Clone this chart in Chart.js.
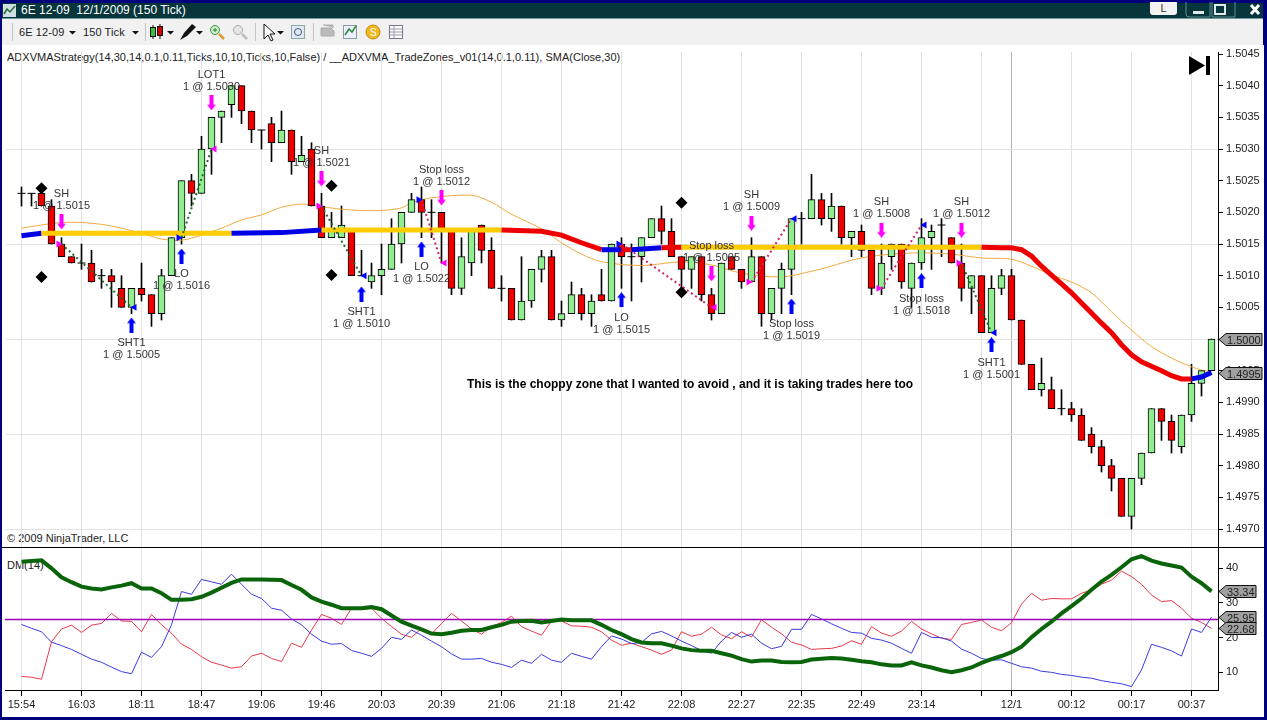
<!DOCTYPE html>
<html>
<head>
<meta charset="utf-8">
<title>6E 12-09</title>
<script src="https://cdn.jsdelivr.net/npm/chart.js@4"></script>
<style>
  html, body { margin: 0; padding: 0; background: #00007f; overflow: hidden; }
  body { position: relative; width: 1267px; height: 720px; font-family: "Liberation Sans", Arial, sans-serif; }
  .abs { position: absolute; white-space: pre; }
  #titlebar { left: 2px; top: 3px; width: 1261px; height: 15px; background: #06363c; border-bottom: 1px solid #6f9a9f; }
  #toolbar { left: 2px; top: 19px; width: 1261px; height: 26px; background: #f1f1f1; }
  #page { left: 2px; top: 45px; width: 1262px; height: 672px; background: #fff; }
  canvas { position: absolute; left: 0; z-index: 2; }
  #priceCanvas { top: 45px; }
  #dmCanvas { top: 548px; }
  #paneLine { left: 2px; top: 547px; width: 1262px; height: 1px; background: #000; z-index: 3; }
  .tb { font-size: 11px; color: #222; top: 26px; z-index: 3; letter-spacing: .1px; }
  .note { font-size: 11px; color: #222; z-index: 1; }
  .sep { top: 23px; width: 1px; height: 18px; background: #c4c4c4; z-index: 3; }
  svg.abs { z-index: 3; }
</style>
</head>
<body>
<div class="abs" id="page"></div>
<div class="abs" id="titlebar"></div>
<div class="abs" id="toolbar"></div>
<div class="abs" id="paneLine"></div>

<svg class="abs" style="left:3px;top:4px" width="13" height="13"><rect width="13" height="13" fill="#cfe0e4"/><path d="M1 10 L4 5 L7 8 L12 2" stroke="#2a6a3a" stroke-width="1.5" fill="none"/></svg>
<div class="abs" style="left:21px;top:3px;font-size:12px;line-height:15px;color:#fff;z-index:3">6E 12-09  12/1/2009 (150 Tick)</div>
<div class="abs" style="left:1150px;top:2px;width:27px;height:13px;background:#f2f2f2;border-radius:0 0 3px 3px;font-size:11px;line-height:12px;text-align:center;color:#333;z-index:3">L</div>
<svg class="abs" style="left:1185px;top:2px" width="78" height="16">
  <path d="M1 0V12Q1 15 4 15H25V0M27 0V15H50V0" stroke="#5f8a8f" fill="none"/>
  <rect x="8" y="9" width="11" height="3" fill="#dfe9ea"/>
  <rect x="30" y="3" width="10" height="9" fill="none" stroke="#dfe9ea" stroke-width="2"/>
  <path d="M66 3L74 12M74 3L66 12" stroke="#fff" stroke-width="3"/>
</svg>

<div class="abs sep" style="left:12px"></div>
<div class="abs tb" style="left:19px">6E 12-09</div>
<div class="abs tb" style="left:83px">150 Tick</div>
<div class="abs sep" style="left:145px"></div>
<div class="abs sep" style="left:255px"></div>
<div class="abs sep" style="left:313px"></div>
<svg class="abs" style="left:0;top:19px" width="410" height="26">
  <path d="M69 12h7l-3.500 3.500zM132 12h7l-3.500 3.500zM167 12h7l-3.500 3.500zM196 12h7l-3.500 3.500zM277 12h7l-3.500 3.500z" fill="#111"/>
  <g stroke="#111"><path d="M153 6V20M160 5V20"/><rect x="150.500" y="8.500" width="5" height="9" fill="#3fbf3f"/><rect x="157.500" y="7.500" width="5" height="9" fill="#c00"/></g>
  <path d="M180 21L184 14L192 5L196 8L187 17Z" fill="#111"/>
  <g fill="#cfe9cf" stroke="#3a9a3a"><circle cx="215" cy="11" r="4.500"/></g>
  <path d="M213 11h4M215 9v4" stroke="#2a8a2a"/><path d="M219 15L224 20" stroke="#e09a30" stroke-width="2.500"/>
  <circle cx="238" cy="11" r="4.500" fill="#e6e6e6" stroke="#aaa"/><path d="M242 15L247 20" stroke="#bbb" stroke-width="2.500"/>
  <path d="M264 5V20L268 16L271 22L273 21L270 15H275Z" fill="#fff" stroke="#111"/>
  <rect x="291.500" y="6.500" width="13" height="13" fill="#dfe8f5" stroke="#8aa"/><circle cx="298" cy="13" r="3.500" fill="none" stroke="#557"/>
  <path d="M321 9h10l3 3v5h-13zM323 6h10v3" fill="#bbb" stroke="#aaa"/>
  <rect x="343.500" y="6.500" width="13" height="13" fill="#eef" stroke="#89a"/><path d="M345 16L349 10L352 13L356 7" stroke="#2a8a3a" fill="none" stroke-width="1.500"/>
  <circle cx="373" cy="13" r="7" fill="#f1b91f" stroke="#c48a10"/><text x="370" y="17" font-size="10" fill="#fff" font-family="Liberation Sans">S</text>
  <rect x="389.500" y="6.500" width="13" height="13" fill="#fff" stroke="#778"/><path d="M390 10H402M390 13H402M390 16H402M394 7V19" stroke="#99a"/>
</svg>

<div class="abs note" style="left:7px;top:51px;letter-spacing:.02px">ADXVMAStrategy(14,30,14,0.1,0.11,Ticks,10,10,Ticks,10,False) / __ADXVMA_TradeZones_v01(14,0.1,0.11), SMA(Close,30)</div>
<div class="abs note" style="left:7px;top:532px">© 2009 NinjaTrader, LLC</div>
<div class="abs note" style="left:7px;top:559px">DM(14)</div>
<div class="abs" style="left:467px;top:377px;font-size:12px;font-weight:bold;color:#000;z-index:3">This is the choppy zone that I wanted to avoid , and it is taking trades here too</div>
<svg class="abs" style="left:1189px;top:56px" width="22" height="20"><path d="M0 0L16 9.500L0 19Z" fill="#000"/><rect x="17" y="0" width="4" height="19" fill="#000"/></svg>

<canvas id="priceCanvas" width="1263" height="509"></canvas>
<canvas id="dmCanvas" width="1263" height="168"></canvas>

<script>
// candles, one per 150 tick bar
const opens = [
  1.5023,1.5023,1.5023,1.5021,1.5015,1.5013,1.5012,1.5012,1.5010,1.5010,
  1.5008,1.5005,1.5008,1.5007,1.5004,1.5010,1.5016,1.5025,1.5023,1.5030,
  1.5035,1.5037,1.5040,1.5036,1.5033,1.5034,1.5031,1.5033,1.5028,1.5030,
  1.5021,1.5016,1.5016,1.5017,1.5010,1.5009,1.5010,1.5011,1.5015,1.5020,
  1.5022,1.5020,1.5020,1.5017,1.5008,1.5012,1.5018,1.5014,1.5008,1.5008,
  1.5003,1.5006,1.5011,1.5013,1.5003,1.5004,1.5007,1.5004,1.5007,1.5006,
  1.5015,1.5013,1.5013,1.5016,1.5019,1.5017,1.5013,1.5011,1.5013,1.5007,
  1.5004,1.5013,1.5011,1.5009,1.5013,1.5004,1.5008,1.5011,1.5019,1.5019,
  1.5022,1.5019,1.5021,1.5016,1.5017,1.5014,1.5008,1.5013,1.5015,1.5008,
  1.5012,1.5016,1.5018,1.5016,1.5012,1.5008,1.5010,1.5001,1.5008,1.5010,
  1.5003,1.4996,1.4992,1.4992,1.4989,1.4989,1.4988,1.4985,1.4983,1.4980,
  1.4978,1.4972,1.4978,1.4982,1.4989,1.4987,1.4983,1.4988,1.4993,1.4995
]
const closes = [
  1.5023,1.5023,1.5021,1.5015,1.5013,1.5012,1.5012,1.5009,1.5010,1.5009,
  1.5005,1.5008,1.5007,1.5004,1.5010,1.5016,1.5025,1.5023,1.5030,1.5035,
  1.5036,1.5040,1.5036,1.5033,1.5033,1.5031,1.5033,1.5028,1.5029,1.5021,
  1.5016,1.5017,1.5018,1.5010,1.5010,1.5010,1.5011,1.5015,1.5020,1.5022,
  1.5020,1.5020,1.5017,1.5008,1.5013,1.5017,1.5014,1.5008,1.5008,1.5003,
  1.5006,1.5011,1.5013,1.5003,1.5004,1.5007,1.5004,1.5006,1.5006,1.5015,
  1.5013,1.5013,1.5016,1.5019,1.5017,1.5013,1.5011,1.5013,1.5007,1.5004,
  1.5012,1.5011,1.5009,1.5013,1.5004,1.5008,1.5011,1.5019,1.5019,1.5022,
  1.5019,1.5021,1.5016,1.5017,1.5014,1.5008,1.5012,1.5015,1.5009,1.5012,
  1.5016,1.5017,1.5018,1.5012,1.5008,1.5010,1.5001,1.5008,1.5010,1.5003,
  1.4996,1.4992,1.4993,1.4989,1.4989,1.4988,1.4984,1.4983,1.4980,1.4978,
  1.4972,1.4978,1.4982,1.4989,1.4987,1.4984,1.4988,1.4993,1.4995,1.5000
]
const highs = [
  1.5024,1.5023,1.5024,1.5022,1.5016,1.5013,1.5015,1.5014,1.5011,1.5011,
  1.5010,1.5008,1.5012,1.5007,1.5011,1.5016,1.5025,1.5026,1.5032,1.5035,
  1.5036,1.5040,1.5040,1.5036,1.5033,1.5035,1.5036,1.5033,1.5032,1.5031,
  1.5023,1.5020,1.5021,1.5017,1.5014,1.5012,1.5015,1.5019,1.5020,1.5023,
  1.5024,1.5022,1.5020,1.5017,1.5016,1.5017,1.5018,1.5016,1.5010,1.5008,
  1.5013,1.5011,1.5014,1.5014,1.5006,1.5009,1.5008,1.5007,1.5011,1.5015,
  1.5016,1.5015,1.5016,1.5019,1.5021,1.5019,1.5013,1.5013,1.5013,1.5008,
  1.5012,1.5013,1.5011,1.5016,1.5013,1.5008,1.5012,1.5019,1.5020,1.5026,
  1.5023,1.5023,1.5021,1.5017,1.5018,1.5014,1.5015,1.5015,1.5015,1.5012,
  1.5019,1.5018,1.5019,1.5016,1.5015,1.5010,1.5010,1.5010,1.5011,1.5011,
  1.5003,1.4996,1.4997,1.4994,1.4992,1.4990,1.4989,1.4986,1.4984,1.4981,
  1.4978,1.4978,1.4982,1.4989,1.4989,1.4988,1.4988,1.4996,1.4995,1.5000
]
const lows = [
  1.5021,1.5021,1.5021,1.5015,1.5013,1.5012,1.5011,1.5009,1.5008,1.5005,
  1.5005,1.5004,1.5006,1.5002,1.5003,1.5010,1.5015,1.5021,1.5023,1.5026,
  1.5031,1.5035,1.5034,1.5031,1.5030,1.5028,1.5031,1.5026,1.5028,1.5021,
  1.5016,1.5016,1.5016,1.5010,1.5010,1.5008,1.5007,1.5011,1.5012,1.5020,
  1.5016,1.5016,1.5012,1.5007,1.5007,1.5010,1.5012,1.5008,1.5006,1.5003,
  1.5003,1.5005,1.5009,1.5003,1.5002,1.5004,1.5003,1.5002,1.5006,1.5006,
  1.5008,1.5006,1.5009,1.5016,1.5015,1.5013,1.5008,1.5008,1.5006,1.5003,
  1.5004,1.5011,1.5008,1.5009,1.5002,1.5003,1.5004,1.5007,1.5015,1.5019,
  1.5018,1.5017,1.5015,1.5013,1.5013,1.5007,1.5007,1.5011,1.5008,1.5005,
  1.5011,1.5011,1.5013,1.5012,1.5006,1.5004,1.5001,1.5001,1.5007,1.5003,
  1.4996,1.4992,1.4991,1.4989,1.4988,1.4987,1.4984,1.4982,1.4979,1.4976,
  1.4972,1.4970,1.4977,1.4982,1.4984,1.4982,1.4982,1.4987,1.4991,1.4995
]

// SMA(Close,30), read at the bars listed
const smaBars = [0,2,4,6,8,10,12,14,16,18,20,22,24,26,28,30,32,34,36,38,39,41,45,47,49,52,54,56,58,62,66,69,72,76,79,81,82,84,87,90,93,96,99,101,103,105,107,109,111,113,115,117,118,119]
const smaValues = [1.50175,1.50180,1.50184,1.50184,1.50181,1.50175,1.50167,1.50158,1.50156,1.50164,1.50175,1.50188,1.50196,1.50208,1.50213,1.50209,1.50205,1.50203,1.50203,1.50207,1.50215,1.50223,1.50227,1.50216,1.50197,1.50174,1.50152,1.50134,1.50122,1.50116,1.50122,1.50117,1.50104,1.50098,1.50107,1.50115,1.50120,1.50128,1.50134,1.50136,1.50134,1.50128,1.50126,1.50115,1.50101,1.50090,1.50073,1.50043,1.50014,1.49988,1.49970,1.49956,1.49951,1.49948]

// ADXVMA thick line; adxColors holds the colour of the stretch leaving each point
const adxBars = [0,2,21,26,30,48,52,54,56,58,60,61,64,66,96,98,99,100,101,102,103,104,105,106,107,108,109,110,111,112,113,114,115,116,117,118,119]
const adxValues = [1.50163,1.50167,1.50167,1.50168,1.50172,1.50172,1.50170,1.50164,1.50152,1.50141,1.50141,1.50141,1.50144,1.50145,1.50145,1.50144,1.50144,1.50141,1.50131,1.50115,1.50101,1.50087,1.50073,1.50057,1.50041,1.50025,1.50010,1.49991,1.49975,1.49964,1.49957,1.49950,1.49942,1.49937,1.49937,1.49940,1.49947]
const adxColors = ['blue','yellow','blue','blue','yellow','red','red','red','red','blue','red','blue','red','yellow','red','red','red','red','red','red','red','red','red','red','red','red','red','red','red','red','red','red','red','red','blue','blue','blue']

// trades: entry and exit, side and outcome
const tradeSides = ['short','long','short','long','long','short','short','short']
const tradeWon = [true,true,true,false,false,false,false,true]
const entryBars = [4,16,30,40,60,73,86,94]
const entryPrices = [1.5015,1.5016,1.5021,1.5022,1.5015,1.5009,1.5008,1.5012]
const exitBars = [11,19,34,42,69,77,90,97]
const exitPrices = [1.5005,1.5030,1.5010,1.5012,1.5005,1.5019,1.5018,1.5001]

// order arrows with their two text lines
const sellBars = [4,19,30,42,69,73,86,94]
const sellMarks = [1.50185,1.50373,1.50253,1.50223,1.50103,1.50183,1.50172,1.50172]
const sellTitles = ['SH','LOT1','SH','Stop loss','Stop loss','SH','SH','SH']
const sellFills = ['1 @ 1.5015','1 @ 1.5030','1 @ 1.5021','1 @ 1.5012','1 @ 1.5005','1 @ 1.5009','1 @ 1.5008','1 @ 1.5012']
const buyBars = [11,16,34,40,60,77,90,97]
const buyMarks = [1.50022,1.50131,1.50071,1.50142,1.50062,1.50052,1.50092,1.49991]
const buyTitles = ['SHT1','LO','SHT1','LO','LO','Stop loss','Stop loss','SHT1']
const buyFills = ['1 @ 1.5005','1 @ 1.5016','1 @ 1.5010','1 @ 1.5022','1 @ 1.5015','1 @ 1.5019','1 @ 1.5018','1 @ 1.5001']

const diamondBars = [2,2,31,31,66,66]
const diamondPrices = [1.50238,1.50098,1.50242,1.50101,1.50215,1.50074]

// DM(14)
const adxLine = [
  41.9,42.1,42.3,40.0,37.4,36.0,34.7,34.2,33.9,34.5,
  35.0,35.7,34.2,34.2,32.8,30.9,30.9,31.1,31.8,33.0,
  34.4,35.8,36.8,36.8,36.8,36.7,36.6,35.2,33.8,31.6,
  30.4,29.5,28.5,28.5,28.5,28.8,28.2,26.4,24.6,23.5,
  22.4,21.2,21.0,21.4,22.0,22.2,22.2,23.0,23.7,24.6,
  24.8,24.9,24.4,24.8,25.2,25.0,25.0,25.0,23.7,22.2,
  21.0,19.6,18.6,18.4,18.4,17.7,16.9,16.4,16.2,16.2,
  15.5,14.8,13.8,13.1,13.4,13.4,13.0,12.9,13.0,13.7,
  13.9,14.1,14.0,13.6,13.2,12.9,12.3,12.0,12.0,12.9,
  12.0,11.4,10.6,10.0,10.6,11.4,12.7,13.8,14.7,15.8,
  17.4,20.1,22.5,24.6,27.0,29.1,31.3,33.8,36.2,38.1,
  40.3,42.6,43.5,42.2,41.4,40.8,40.2,37.6,35.7,33.34
]
const plusDi = [
  23.8,22.7,21.7,18.7,17.7,16.6,15.2,13.8,12.9,11.5,
  10.2,9.6,15.8,14.3,17.4,23.7,33.3,32.5,36.8,36.1,
  35.4,38.3,35.4,32.5,31.3,28.5,27.9,25.4,23.7,21.0,
  19.0,18.1,18.3,16.3,15.5,14.6,16.9,20.1,19.5,22.2,
  20.7,19.0,17.4,15.3,13.8,13.8,14.0,12.9,12.3,11.4,
  13.5,12.6,15.2,13.5,12.9,15.5,14.6,13.8,17.4,20.5,
  19.6,18.3,18.6,21.1,21.8,20.5,19.0,17.7,16.3,15.5,
  19.0,21.5,20.1,21.0,18.4,16.8,17.5,22.4,22.4,26.7,
  25.4,24.0,22.7,21.5,21.3,19.8,19.3,18.4,16.9,15.5,
  21.5,20.1,20.0,19.0,16.7,15.5,14.0,13.5,13.6,12.6,
  11.6,11.2,10.3,10.0,9.4,9.1,8.6,8.3,7.6,7.1,
  6.7,5.9,10.7,18.1,17.2,16.2,14.7,22.5,21.5,25.95
]
const minusDi = [
  8.8,8.6,8.0,18.8,22.5,23.6,21.5,23.6,24.1,27.0,
  24.8,24.7,21.7,26.7,23.7,21.3,18.1,16.6,14.5,12.9,
  12.1,11.2,11.6,14.7,15.5,14.0,13.1,18.4,17.2,22.2,
  26.7,25.6,23.8,28.5,28.5,28.5,25.6,23.2,21.0,20.1,
  22.6,21.1,24.1,27.0,24.8,22.5,21.0,23.2,24.4,26.2,
  23.2,21.9,20.7,24.8,24.8,23.4,23.3,23.0,21.7,19.3,
  17.8,18.4,17.4,16.4,15.2,16.4,21.7,20.4,21.0,23.0,
  20.8,19.7,21.7,20.2,25.2,23.0,21.1,18.7,17.9,16.6,
  16.8,16.9,17.6,19.1,18.1,23.2,21.3,20.4,21.9,24.7,
  22.5,21.1,19.8,19.5,23.8,24.4,25.1,23.0,22.0,24.3,
  29.7,32.8,30.8,31.3,31.2,31.2,32.8,33.8,35.4,36.6,
  39.2,37.6,35.4,32.3,30.4,30.7,28.5,25.6,24.4,22.68
]
const dmLevel = 25.24

// axes
const gridBars = [0,6,12,18,24,30,36,42,48,54,60,66,72,78,84,90,96,99,105,111,117]
const timeLabels = ['15:54','16:03','18:11','18:47','19:06','19:46','20:03','20:39','21:06','21:18','21:42','22:08','22:27','22:35','22:49','23:14','','12/1','00:12','00:17','00:37']
const priceTicks = [1.5045,1.5040,1.5035,1.5030,1.5025,1.5020,1.5015,1.5010,1.5005,1.5000,1.4995,1.4990,1.4985,1.4980,1.4975,1.4970]
const priceGrid = [1.5030,1.5015,1.5000,1.4985,1.4970]
const dmTicks = [10,20,30,40]

Chart.defaults.font.family = '"Liberation Sans", Arial, sans-serif'
Chart.defaults.font.size = 11
Chart.defaults.color = '#222'
Chart.defaults.animation = false

const lineColors = { blue: '#0000e6', yellow: '#ffcc00', red: '#ee0000' }
const gridLight = '#e2e2e2'
const gridSession = '#b4b4b4'
const nudge = 0.3

const arrowImage = (color, up) => {
  const c = document.createElement('canvas')
  c.width = 9
  c.height = 15
  const g = c.getContext('2d')
  g.fillStyle = color
  g.translate(4.5, 7.5)
  if (!up) g.scale(1, -1)
  g.beginPath()
  g.moveTo(0, -7.5)
  g.lineTo(4.5, -2)
  g.lineTo(2, -2)
  g.lineTo(2, 7.5)
  g.lineTo(-2, 7.5)
  g.lineTo(-2, -2)
  g.lineTo(-4.5, -2)
  g.closePath()
  g.fill()
  return c
}

const pts = (xs, ys) => xs.map((x, i) => ({ x: x, y: ys[i] }))
const marks = (list, extra) => Object.assign({
  type: 'line', data: list, showLine: false, pointBorderWidth: 0
}, extra)

const bars = opens.map((_, i) => i)
const isDoji = i => opens[i] === closes[i]

const wickSet = {
  type: 'bar', grouped: false, order: 30, barThickness: 1, backgroundColor: '#000',
  data: bars.map(i => ({ x: i, y: [lows[i], highs[i]] }))
}
const bodySet = {
  type: 'bar', grouped: false, order: 20, barThickness: 7, borderWidth: 1, borderColor: '#000', borderSkipped: false,
  backgroundColor: bars.filter(i => !isDoji(i)).map(i => closes[i] > opens[i] ? '#90ee90' : '#ee0000'),
  data: bars.filter(i => !isDoji(i)).map(i => ({ x: i, y: [opens[i], closes[i]] }))
}
const dojiSet = marks(bars.filter(isDoji).map(i => ({ x: i, y: opens[i] })), {
  order: 19, pointStyle: 'line', pointRadius: 4, pointBorderWidth: 1, pointBorderColor: '#000'
})
const smaSet = {
  type: 'line', order: 25, data: pts(smaBars, smaValues), borderColor: '#f2a93b', borderWidth: 1, pointRadius: 0, tension: 0.3
}
const adxSet = {
  type: 'line', order: 10, data: pts(adxBars, adxValues), borderWidth: 5, pointRadius: 0, borderColor: lineColors.yellow,
  segment: { borderColor: c => lineColors[adxColors[c.p0DataIndex]] }
}
const tradeSets = tradeSides.map((_, t) => ({
  type: 'line', order: 8, borderWidth: 2, borderDash: [2, 3], pointRadius: 0,
  borderColor: tradeWon[t] ? '#1f6b2a' : '#d0206a',
  data: [{ x: entryBars[t], y: entryPrices[t] }, { x: exitBars[t], y: exitPrices[t] }]
}))
const triangle = (bar, price, color, rot) => marks([{ x: bar, y: price }], {
  order: 6, pointStyle: 'triangle', pointRadius: 4, pointRotation: rot, pointBackgroundColor: color
})
const triangleSets = tradeSides.flatMap((side, t) => [
  triangle(entryBars[t] - nudge, entryPrices[t], side === 'long' ? '#0000ff' : '#ff00ff', 90),
  triangle(exitBars[t] + nudge, exitPrices[t], side === 'long' ? '#ff00ff' : '#0000ff', -90)
])
const sellSet = marks(pts(sellBars, sellMarks), { order: 5, pointStyle: arrowImage('#ff00ff', false) })
const buySet = marks(pts(buyBars, buyMarks), { order: 5, pointStyle: arrowImage('#0000ff', true) })
const diamondSet = marks(pts(diamondBars, diamondPrices), {
  order: 5, pointStyle: 'rectRot', pointRadius: 6, pointBackgroundColor: '#000'
})

// the hidden x axis keeps 7px so the y labels at the ends cannot push the plot in
const xAxis = (show, first) => ({
  type: 'linear', min: first, max: 119.65, offset: false,
  afterBuildTicks: s => { s.ticks = gridBars.map(v => ({ value: v })) },
  afterFit: s => { s.height = show ? 26 : 7; s.paddingLeft = 0; s.paddingRight = 0 },
  grid: {
    offset: false,
    color: c => c.tick && c.tick.value === 99 ? gridSession : gridLight,
    tickColor: '#000', tickLength: show ? 6 : 0, drawTicks: show
  },
  border: { display: show, color: '#000' },
  ticks: {
    display: show, autoSkip: false, maxRotation: 0, minRotation: 0, padding: 2, color: '#222',
    callback: v => timeLabels[gridBars.indexOf(v)]
  }
})
const yAxis = (min, max, list, gridList, fmt) => ({
  position: 'right', min: min, max: max,
  afterBuildTicks: s => { s.ticks = list.map(v => ({ value: v })) },
  afterFit: s => { s.width = 45; s.paddingTop = 0; s.paddingBottom = 0 },
  grid: {
    color: c => c.tick && gridList.includes(c.tick.value) ? gridLight : 'transparent',
    tickColor: '#000', tickLength: 5
  },
  border: { color: '#000' },
  ticks: { autoSkip: false, padding: 3, color: '#222', callback: fmt }
})

// grey last value tags on the right of the axis
const drawFlag = (chart, value, text, right) => {
  const g = chart.ctx
  const y = Math.round(chart.scales.y.getPixelForValue(value)) + 0.5
  const x = chart.scales.y.left + 1
  g.save()
  g.beginPath()
  g.moveTo(x, y)
  g.lineTo(x + 7, y - 6)
  g.lineTo(right, y - 6)
  g.lineTo(right, y + 6)
  g.lineTo(x + 7, y + 6)
  g.closePath()
  g.fillStyle = '#a0a0a0'
  g.fill()
  g.strokeStyle = '#111'
  g.stroke()
  g.fillStyle = '#222'
  g.font = '11px "Liberation Sans", Arial, sans-serif'
  g.textBaseline = 'middle'
  g.fillText(text, x + 8, y + 1)
  g.restore()
}

const orderText = {
  id: 'orderText',
  afterDraw: chart => {
    const g = chart.ctx
    const xs = chart.scales.x
    const ys = chart.scales.y
    g.save()
    g.font = '11px "Liberation Sans", Arial, sans-serif'
    g.fillStyle = '#333'
    g.textAlign = 'center'
    g.textBaseline = 'middle'
    sellBars.forEach((b, i) => {
      const y = ys.getPixelForValue(sellMarks[i])
      g.fillText(sellTitles[i], xs.getPixelForValue(b), y - 28)
      g.fillText(sellFills[i], xs.getPixelForValue(b), y - 16)
    })
    buyBars.forEach((b, i) => {
      const y = ys.getPixelForValue(buyMarks[i])
      g.fillText(buyTitles[i], xs.getPixelForValue(b), y + 18)
      g.fillText(buyFills[i], xs.getPixelForValue(b), y + 30)
    })
    g.restore()
    const lastClose = closes[closes.length - 1]
    const lastAdx = adxValues[adxValues.length - 1]
    drawFlag(chart, lastClose, lastClose.toFixed(4), 1262)
    drawFlag(chart, lastAdx, lastAdx.toFixed(4), 1262)
  }
}
const dmFlags = {
  id: 'dmFlags',
  afterDraw: chart => {
    [adxLine, plusDi, minusDi].forEach(s => {
      const v = s[s.length - 1]
      drawFlag(chart, v, v.toFixed(2), 1256)
    })
  }
}

new Chart(document.getElementById('priceCanvas'), {
  type: 'bar',
  data: {
    datasets: [wickSet, bodySet, dojiSet, smaSet, adxSet, ...tradeSets, ...triangleSets, sellSet, buySet, diamondSet]
  },
  options: {
    responsive: false,
    layout: { padding: { left: 5, top: 7, right: 0, bottom: 0 } },
    plugins: { legend: { display: false }, tooltip: { enabled: false } },
    scales: {
      x: xAxis(false, -1.55),
      y: yAxis(1.496716, 1.504532, priceTicks, priceGrid, v => v.toFixed(4))
    }
  },
  plugins: [orderText]
})

new Chart(document.getElementById('dmCanvas'), {
  type: 'line',
  data: {
    datasets: [
      { data: pts(bars, adxLine), borderColor: '#0a640a', borderWidth: 4, pointRadius: 0, order: 1 },
      { data: pts(bars, plusDi), borderColor: '#3a3ae0', borderWidth: 1, pointRadius: 0, order: 3 },
      { data: pts(bars, minusDi), borderColor: '#e8384a', borderWidth: 1, pointRadius: 0, order: 4 },
      { data: pts([-1.65, 119.65], [dmLevel, dmLevel]), borderColor: '#a000b4', borderWidth: 1.4, pointRadius: 0, order: 2 }
    ]
  },
  options: {
    responsive: false,
    layout: { padding: { left: 5, top: 0, right: 0, bottom: 0 } },
    plugins: { legend: { display: false }, tooltip: { enabled: false } },
    scales: {
      x: xAxis(true, -1.65),
      y: yAxis(4.9, 45.86, dmTicks, [], v => String(v))
    }
  },
  plugins: [dmFlags]
})
</script>
</body>
</html>
